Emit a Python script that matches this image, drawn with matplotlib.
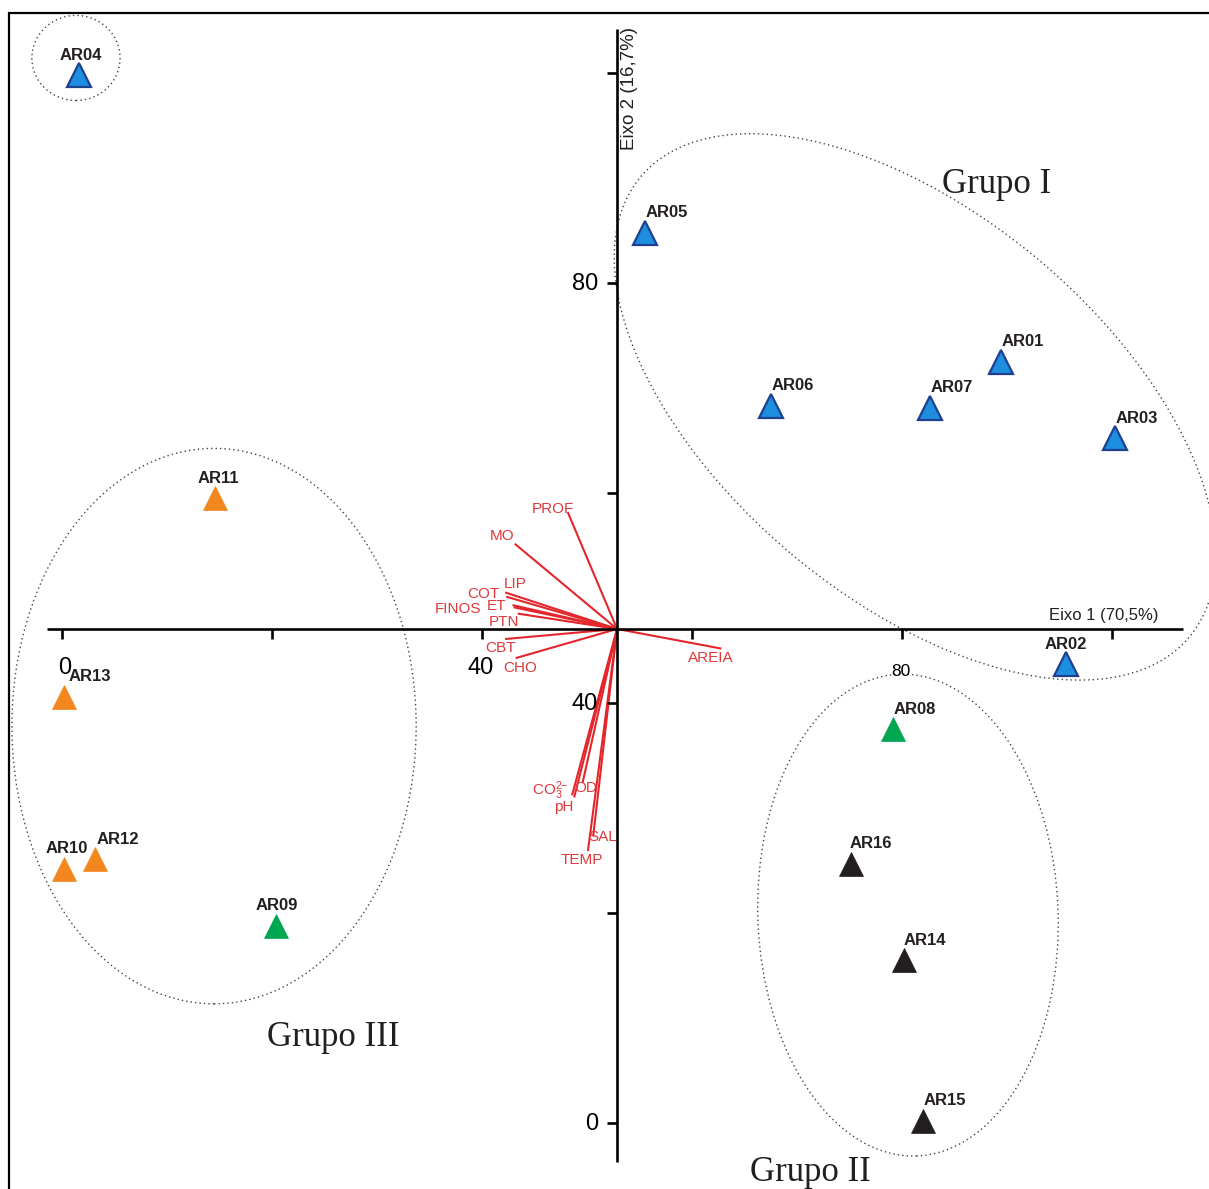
import matplotlib
matplotlib.use("Agg")
import matplotlib.pyplot as plt
from matplotlib.patches import Ellipse, Rectangle

plt.rcParams["mathtext.fontset"] = "custom"
plt.rcParams["mathtext.rm"] = "Liberation Sans"
plt.rcParams["mathtext.it"] = "Liberation Sans"

# ---------------- data ----------------
sites = ["AR01", "AR02", "AR03", "AR04", "AR05", "AR06", "AR07", "AR08",
         "AR09", "AR10", "AR11", "AR12", "AR13", "AR14", "AR15", "AR16"]
axis1 = [89.4, 95.6, 100.3, 1.6, 55.5, 67.5, 82.7, 79.1,
         20.4, 0.2, 14.6, 3.1, 0.2, 80.2, 82.0, 75.1]
axis2 = [72.5, 43.7, 65.2, 99.8, 84.8, 68.3, 68.1, 37.5,
         18.8, 24.2, 59.5, 25.1, 40.6, 15.5, 0.2, 24.7]
site_class = ["A", "A", "A", "A", "A", "A", "A", "G",
              "G", "O", "O", "O", "O", "K", "K", "K"]

# environmental vectors (origin at the crossing of the axes)
origin = (52.86, 47.05)
variables = ["PROF", "MO", "LIP", "COT", "ET", "FINOS", "PTN", "CBT", "CHO",
             "AREIA", "CO$_3^{2\\mathrm{-}}$", "pH", "OD", "SAL", "TEMP"]
var_x = [48.2, 43.2, 42.3, 42.4, 43.0, 43.1, 43.5, 42.3, 43.3,
         62.7, 48.6, 48.8, 49.6, 50.6, 50.1]
var_y = [58.1, 55.1, 50.5, 50.1, 49.3, 49.1, 48.5, 46.1, 44.3,
         45.2, 31.3, 31.1, 32.5, 27.4, 26.0]

ticks = [0, 20, 40, 60, 80, 100]
x_ticklabels = {0: "0", 40: "40", 80: "80"}
y_ticklabels = {0: "0", 40: "40", 80: "80"}
axis1_title = "Eixo 1 (70,5%)"
axis2_title = "Eixo 2 (16,7%)"
group_names = ["Grupo I", "Grupo II", "Grupo III"]

# ---------------- layout / style ----------------
W, H, DPI = 1209, 1189, 100
PX = 10.5            # pixels per data unit
X0, Y0 = 62, 1123    # pixel position of data (0, 0)

fill = {"A": "#1e8fe0", "G": "#00a651", "O": "#f2861f", "K": "#231f20"}
edge = {"A": "#1f3f8f", "G": "#00a651", "O": "#f2861f", "K": "#231f20"}
RED = "#e3262b"
RED_T = "#e0383c"
INK = "#231f20"

# label offsets in pixels (dx, dy with y downward)
site_lab_dx = {"AR01": 22, "AR02": 0, "AR03": 22, "AR04": 2, "AR05": 22,
               "AR06": 22, "AR07": 21, "AR08": 22, "AR09": 1, "AR10": 3,
               "AR11": 3, "AR12": 23, "AR13": 26, "AR14": 21, "AR15": 22,
               "AR16": 20}
var_lab_off = [(-15, -4), (-14, -8), (9, -9), (-24, -3), (-17, 1), (-57, 2),
               (-15, 8), (-6, 9), (4, 10), (-10, 10), (-22, -4), (-11, 11),
               (3, 6), (9, 2), (-6, 10)]

fig = plt.figure(figsize=(W / DPI, H / DPI), dpi=DPI)
ax = fig.add_axes([0, 0, 1, 1])
ax.set_xlim(-X0 / PX, (W - X0) / PX)
ax.set_ylim(-(H - Y0) / PX, Y0 / PX)
ax.axis("off")

pt = 72.0 / DPI  # points per pixel

# frame (left and top visible)
fig.patches.append(Rectangle((9 / W, -0.2), 1.3, (H - 13) / H + 0.2,
                             transform=fig.transFigure, fill=False,
                             lw=1.6, ec="black"))

# ellipses
dot = (0, (1, 2.2))
ells = [((1.33, 101.43), 8.4, 8.1, 0),
        ((81.24, 68.2), 68.2, 36.6, -40),
        ((80.57, 19.8), 28.6, 45.9, 2),
        ((14.48, 37.8), 38.5, 52.9, 0)]
for c, w, h, a in ells:
    ax.add_patch(Ellipse(c, w, h, angle=a, fill=False, ec="#444444",
                         lw=1.0, ls=dot, zorder=1))

# axes lines
ox, oy = origin
ax.plot([-1.43, 106.8], [oy, oy], color="black", lw=1.9, zorder=3,
        solid_capstyle="butt")
ax.plot([ox, ox], [-3.7, 104.2], color="black", lw=1.9, zorder=3,
        solid_capstyle="butt")
tl = 1.0
for t in ticks:
    ax.plot([t, t], [oy, oy - tl], color="black", lw=1.9, zorder=3,
            solid_capstyle="butt")
    ax.plot([ox - tl, ox], [t, t], color="black", lw=1.9, zorder=3,
            solid_capstyle="butt")
for t, s in x_ticklabels.items():
    small = (t == 80)
    ax.annotate(s, (t, oy), xytext=((3 if t == 0 else -1) * pt,
                                    -(43 if small else 39) * pt),
                textcoords="offset points", ha="center", va="center",
                fontsize=12.5 if small else 17, family="Liberation Sans",
                color="black", zorder=4)
for t, s in y_ticklabels.items():
    ax.annotate(s, (ox, t), xytext=(-19 * pt, -1 * pt),
                textcoords="offset points", ha="right", va="center",
                fontsize=17, family="Liberation Sans", color="black",
                zorder=4)

ax.annotate(axis1_title, (ox, oy), xytext=(487 * pt, 13 * pt),
            textcoords="offset points", ha="center", va="center",
            fontsize=12, family="Liberation Sans", color=INK)
ax.annotate(axis2_title, (ox, 100), xytext=(12 * pt, -16 * pt),
            textcoords="offset points", ha="center", va="center",
            rotation=90, fontsize=13.5, family="Liberation Sans", color=INK)

# environmental vectors
for name, vx, vy, (dx, dy) in zip(variables, var_x, var_y, var_lab_off):
    ax.plot([ox, vx], [oy, vy], color=RED, lw=1.5, zorder=2)
    ax.annotate(name, (vx, vy), xytext=(dx * pt, -dy * pt),
                textcoords="offset points", ha="center", va="center",
                fontsize=11, family="Liberation Sans", color=RED_T, zorder=4)

# sites
for s, x, y, c in zip(sites, axis1, axis2, site_class):
    ax.plot(x, y, marker="^", ms=17.5, mfc=fill[c], mec=edge[c],
            mew=1.6 if c == "A" else 0.5, ls="none", zorder=5)
    ax.annotate(s, (x, y), xytext=(site_lab_dx[s] * pt, 20 * pt),
                textcoords="offset points", ha="center", va="center",
                fontsize=12, fontweight="bold", family="Liberation Sans",
                color=INK, zorder=6)

# group names
group_pos = [(89.05, 89.4), (71.3, -4.76), (25.8, 8.1)]
for g, (gx, gy) in zip(group_names, group_pos):
    ax.text(gx, gy, g, ha="center", va="center", fontsize=25,
            family="Liberation Serif", color=INK, zorder=4)

fig.savefig("out.png", dpi=DPI, facecolor="white")
